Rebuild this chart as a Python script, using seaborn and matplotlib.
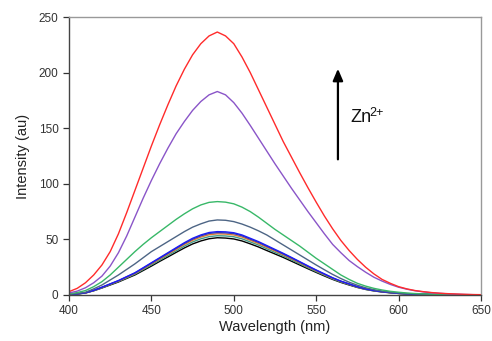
import numpy as np
import pandas as pd
import matplotlib
matplotlib.use("Agg")
import matplotlib.pyplot as plt
import seaborn as sns

# wavelength grid (nm), 5 nm steps, intensities
wavelength = list(range(400, 651, 5))

red = [3, 6, 11, 18, 27, 39, 55, 74, 94, 114, 134, 153, 171, 188, 203, 216, 226,
       233, 236.5, 233, 226, 214, 200, 184.5, 169, 153.5, 138, 124, 110, 96.5,
       83.5, 71, 59.5, 49, 40, 32, 25, 19, 14, 10.5, 7.5, 5.5, 4, 3, 2.2, 1.6,
       1.2, 0.9, 0.6, 0.4, 0.3]
purple = [1.8, 3.5, 6.5, 11, 17, 26, 38, 53, 70, 87, 103, 118, 132, 145, 156, 166,
          174, 180, 183, 180, 173, 163.5, 152.5, 141, 129.5, 118, 107, 96, 85.5,
          75, 65, 55, 45.5, 38, 31, 25.5, 20.5, 16, 12.5, 9.5, 7, 5.2, 3.8, 2.8, 2,
          1.5, 1, 0.7, 0.5, 0.3, 0.2]
green = [1, 2.2, 4, 7.5, 12, 18, 25, 32, 39, 45.5, 51.5, 57, 62.5, 68, 73, 77.5,
         81, 83.3, 84, 83.5, 82, 79, 75, 70, 64.5, 59, 54, 49, 44, 38.5, 33, 28,
         23, 18, 14, 10.5, 8, 6, 4.5, 3.3, 2.5, 1.8, 1.3, 1, 0.7, 0.5, 0.4, 0.3,
         0.2, 0.15, 0.1]
slate = [0.5, 1.3, 2.5, 5.5, 9, 13.5, 18, 23, 28, 33.5, 39, 43.5, 48, 52.5, 57, 61,
         64, 66.5, 67.5, 67.2, 66, 63.8, 61, 57.7, 54, 49.5, 45, 40.5, 36, 31.5, 27,
         22.7, 18.5, 14.8, 11.5, 8.8, 6.5, 4.8, 3.5, 2.5, 1.8, 1.3, 1, 0.7, 0.5,
         0.4, 0.3, 0.2, 0.15, 0.1, 0.1]
blue = [0.3, 1, 2, 4.2, 7, 10, 13, 16.5, 20, 24.5, 29, 33.5, 38, 42.5, 47, 51, 54,
        56.2, 57, 56.8, 56, 54, 51, 48, 44.5, 41, 37.5, 33.8, 30, 26.2, 22.5, 19,
        15.5, 12.5, 10, 7.5, 5.5, 4.1, 3, 2.2, 1.5, 1.1, 0.8, 0.6, 0.4, 0.3, 0.2,
        0.15, 0.1, 0.05, 0]
navy = [0.3, 1, 2, 4.1, 6.9, 9.9, 12.8, 16.3, 19.7, 24.1, 28.6, 33, 37.4, 41.9,
        46.3, 50.2, 53.2, 55.4, 56.1, 55.9, 55.2, 53.2, 50.2, 47.3, 43.8, 40.4,
        36.9, 33.3, 29.6, 25.8, 22.2, 18.7, 15.3, 12.3, 9.9, 7.4, 5.4, 4, 3, 2.2,
        1.5, 1.1, 0.8, 0.6, 0.4, 0.3, 0.2, 0.15, 0.1, 0.05, 0]
orange = [0.3, 1, 1.9, 4.1, 6.8, 9.7, 12.5, 15.9, 19.3, 23.6, 28, 32.3, 36.7, 41,
          45.4, 49.2, 52.1, 54.2, 55, 54.8, 54, 52.1, 49.2, 46.3, 42.9, 39.6, 36.2,
          32.6, 29, 25.3, 21.7, 18.3, 15, 12.1, 9.7, 7.2, 5.3, 4, 2.9, 2.1, 1.4,
          1.1, 0.8, 0.6, 0.4, 0.3, 0.2, 0.15, 0.1, 0.05, 0]
teal = [0.3, 0.9, 1.9, 3.9, 6.5, 9.4, 12.2, 15.4, 18.7, 22.9, 27.1, 31.3, 35.5,
        39.7, 43.9, 47.7, 50.5, 52.5, 53.3, 53.1, 52.4, 50.5, 47.7, 44.9, 41.6,
        38.3, 35.1, 31.6, 28.1, 24.5, 21, 17.8, 14.5, 11.7, 9.4, 7, 5.1, 3.8, 2.8,
        2.1, 1.4, 1, 0.7, 0.6, 0.4, 0.3, 0.2, 0.15, 0.1, 0.05, 0]
black = [0.2, 0.9, 1.8, 3.8, 6.3, 9, 11.7, 14.9, 18, 22, 26, 30.2, 34.2, 38.3,
         42.3, 45.9, 48.6, 50.6, 51.5, 51.2, 50.4, 48.6, 46, 43.2, 40, 36.9, 33.8,
         30.4, 27, 23.6, 20.3, 17.1, 14, 11.3, 9, 6.8, 5, 3.7, 2.7, 2, 1.4, 1, 0.7,
         0.5, 0.4, 0.3, 0.2, 0.1, 0.1, 0.05, 0]

series = {
    "black": black, "teal": teal, "orange": orange, "navy": navy, "blue": blue,
    "slate": slate, "green": green, "purple": purple, "red": red,
}
colors = {
    "black": "#000000", "teal": "#3f9a88", "orange": "#e07a30", "navy": "#3a3aa8",
    "blue": "#1c1cf5", "slate": "#4d6585", "green": "#38b868",
    "purple": "#8a55c8", "red": "#ff2b2b",
}

df = pd.concat(
    [pd.DataFrame({"wavelength": wavelength, "intensity": v, "curve": k})
     for k, v in series.items()],
    ignore_index=True,
)

sns.set_style("white")
plt.rcParams["font.family"] = ["Liberation Sans", "DejaVu Sans"]

fig = plt.figure(figsize=(4.92, 3.41), dpi=100)
ax = fig.add_axes([0.1402, 0.1349, 0.8374, 0.8152])

sns.lineplot(data=df, x="wavelength", y="intensity", hue="curve",
             palette=colors, linewidth=1.0, legend=False, ax=ax)

ax.set_xlim(400, 650)
ax.set_ylim(0, 250)
ax.set_xticks(range(400, 651, 50))
ax.set_yticks(range(0, 251, 50))
ax.set_xlabel("Wavelength (nm)", fontsize=10.5, color="#222222", labelpad=2)
ax.set_ylabel("Intensity (au)", fontsize=10.5, color="#222222", labelpad=6)
ax.tick_params(axis="both", direction="out", length=4, width=0.9,
               labelsize=8.5, colors="#333333", left=True, bottom=True)

for side in ["left", "bottom"]:
    ax.spines[side].set_color("#444444")
    ax.spines[side].set_linewidth(1.0)
for side in ["top", "right"]:
    ax.spines[side].set_color("#999999")
    ax.spines[side].set_linewidth(1.0)

# arrow and label
ax.annotate("", xy=(563.2, 206), xytext=(563.2, 119.5),
            arrowprops=dict(arrowstyle="-|>,head_width=0.3,head_length=0.7",
                            color="black", lw=1.6))
zn = ax.text(570.5, 160, "Zn", fontsize=13, color="#111111", va="center", ha="left")
ax.annotate("2+", xy=(1.0, 1.0), xycoords=zn, xytext=(-1.2, 1.5),
            textcoords="offset points", fontsize=9, color="#111111",
            ha="left", va="top")

fig.savefig("out.png", dpi=100)
